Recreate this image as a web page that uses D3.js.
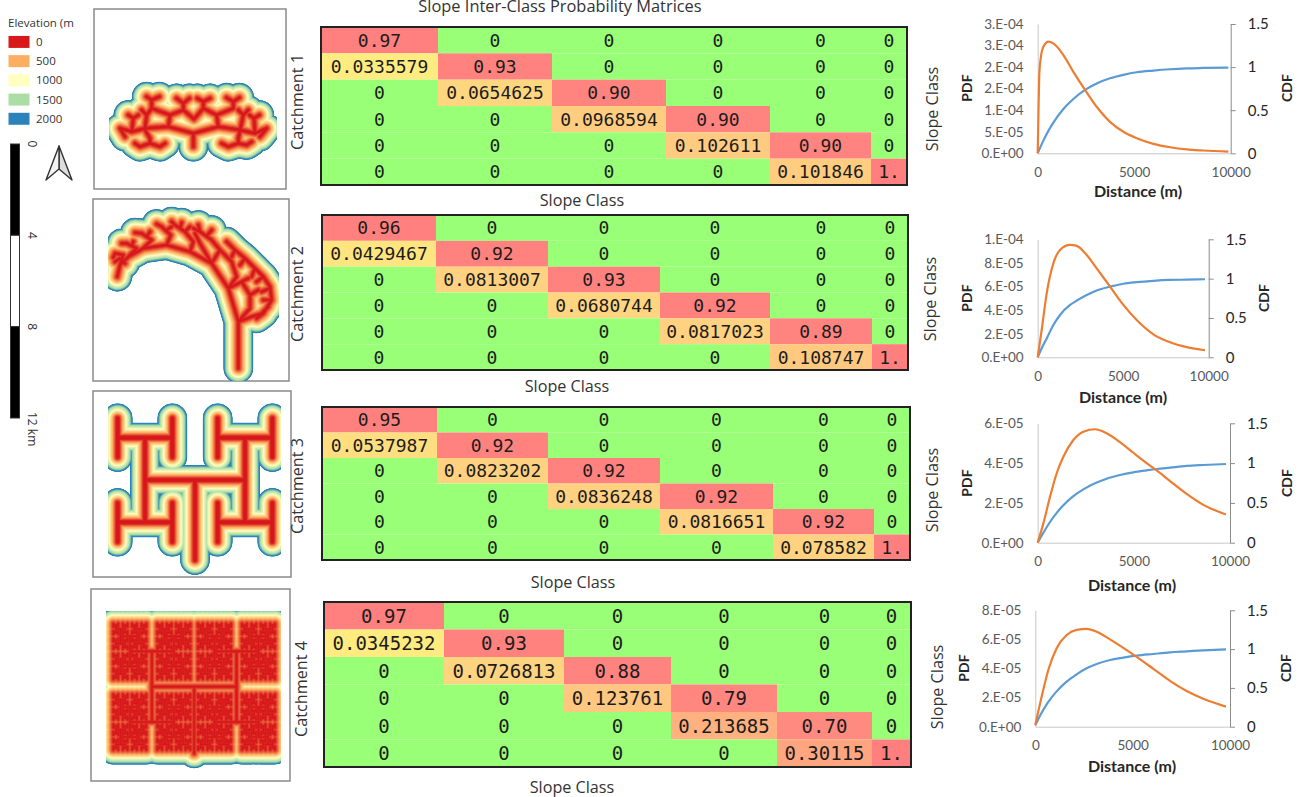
<!DOCTYPE html>
<html>
<head>
<meta charset="utf-8">
<script src="https://cdn.jsdelivr.net/npm/d3@7"></script>
<style>
  body { margin: 0; background: #fff; }
  text { font-family: "Open Sans", sans-serif; fill: #333; }
  .cell-text { font-family: "DejaVu Sans Mono", monospace; fill: #1c1c1c; text-anchor: middle; dominant-baseline: central; }
  .tick text { font-family: Lato, sans-serif; }
  .bold { font-family: Lato, sans-serif; font-weight: 700; fill: #262626; }
</style>
</head>
<body>
<svg width="1301" height="797"></svg>
<script>
// inter-class matrices, kept as printed
const matrix1 = [
  ['0.97','0','0','0','0','0'],
  ['0.0335579','0.93','0','0','0','0'],
  ['0','0.0654625','0.90','0','0','0'],
  ['0','0','0.0968594','0.90','0','0'],
  ['0','0','0','0.102611','0.90','0'],
  ['0','0','0','0','0.101846','1.']
];
const matrix2 = [
  ['0.96','0','0','0','0','0'],
  ['0.0429467','0.92','0','0','0','0'],
  ['0','0.0813007','0.93','0','0','0'],
  ['0','0','0.0680744','0.92','0','0'],
  ['0','0','0','0.0817023','0.89','0'],
  ['0','0','0','0','0.108747','1.']
];
const matrix3 = [
  ['0.95','0','0','0','0','0'],
  ['0.0537987','0.92','0','0','0','0'],
  ['0','0.0823202','0.92','0','0','0'],
  ['0','0','0.0836248','0.92','0','0'],
  ['0','0','0','0.0816651','0.92','0'],
  ['0','0','0','0','0.078582','1.']
];
const matrix4 = [
  ['0.97','0','0','0','0','0'],
  ['0.0345232','0.93','0','0','0','0'],
  ['0','0.0726813','0.88','0','0','0'],
  ['0','0','0.123761','0.79','0','0'],
  ['0','0','0','0.213685','0.70','0'],
  ['0','0','0','0','0.30115','1.']
];

// curves
const dist1 = [0,35,86,155,294,553,812,1330,1848,2453,3057,3748,4439,5130,5993,6857,7720,8584,9879];
const pdf1 = [0,8.5e-5,1.86e-4,2.2e-4,2.47e-4,2.59e-4,2.55e-4,2.28e-4,1.89e-4,1.47e-4,1.08e-4,7.3e-5,5.0e-5,3.5e-5,2.2e-5,1.4e-5,9e-6,6.5e-6,4e-6];
const cdf1 = [0,.02,.045,.08,.147,.26,.356,.514,.63,.735,.81,.87,.91,.94,.96,.975,.985,.99,.995];

const dist2 = [0,234,526,916,1306,1891,2281,2865,3450,4230,5010,5789,6764,7739,8713,9786];
const pdf2 = [0,2.32e-5,5.42e-5,7.97e-5,9.1e-5,9.52e-5,9.44e-5,8.67e-5,7.54e-5,5.99e-5,4.44e-5,3.16e-5,1.95e-5,1.27e-5,8.6e-6,6e-6];
const cdf2 = [0,.114,.24,.41,.538,.665,.72,.792,.85,.898,.935,.955,.972,.983,.987,.992];

const dist3 = [0,295,641,988,1334,1854,2374,2981,3588,4281,4974,5667,6187,6880,7747,8614,9792];
const pdf3 = [0,9.7e-6,2.31e-5,3.49e-5,4.32e-5,5.16e-5,5.58e-5,5.7e-5,5.5e-5,5.05e-5,4.52e-5,4.0e-5,3.63e-5,3.1e-5,2.45e-5,1.9e-5,1.42e-5];
const cdf3 = [0,.125,.26,.375,.47,.585,.67,.746,.804,.85,.884,.909,.926,.943,.964,.976,.989];

const dist4 = [0,325,668,1096,1610,2123,2637,3151,3836,4521,5205,6062,6918,7774,8630,9795];
const pdf4 = [1.1e-6,2.06e-5,3.9e-5,5.39e-5,6.3e-5,6.65e-5,6.72e-5,6.53e-5,6.0e-5,5.42e-5,4.8e-5,3.98e-5,3.15e-5,2.45e-5,1.92e-5,1.38e-5];
const cdf4 = [.02,.18,.32,.455,.58,.675,.752,.808,.86,.89,.915,.937,.958,.971,.984,.997];

// left axis labels, bottom to top as printed
const pdfLabels1 = ['0.E+00','5.E-05','1.E-04','2.E-04','2.E-04','3.E-04','3.E-04'];
const pdfLabels2 = ['0.E+00','2.E-05','4.E-05','6.E-05','8.E-05','1.E-04'];
const pdfLabels3 = ['0.E+00','2.E-05','4.E-05','6.E-05'];
const pdfLabels4 = ['0.E+00','2.E-05','4.E-05','6.E-05','8.E-05'];
const cdfTicks = [0, 0.5, 1, 1.5];
const cdfLabels = ['0', '0.5', '1', '1.5'];
const distTicks = [0, 5000, 10000];

// elevation legend
const elevations = [0, 500, 1000, 1500, 2000];
const elevationColors = ['#d7191c', '#fdae61', '#ffffbf', '#abdda4', '#2b83ba'];
const scaleKm = [0, 4, 8, 12];

const network1 = [
  [[280,215],[280,175],[205,155],[135,160],[95,170],[60,160]],
  [[280,175],[355,155],[420,165],[465,175],[500,160]],
  [[205,155],[210,120],[250,105],[250,85],[230,70]], [[250,85],[268,70]],
  [[210,120],[155,100],[155,75],[140,65]], [[155,75],[178,65]],
  [[355,155],[350,120],[310,100],[310,80],[292,70]], [[310,80],[330,70]],
  [[350,120],[400,100],[400,80],[380,68]], [[400,80],[418,68]],
  [[250,105],[282,132],[310,100]],
  [[135,160],[140,120],[125,105]], [[140,120],[155,100]],
  [[95,170],[100,130],[85,120]], [[100,130],[115,120]],
  [[60,160],[75,185]],
  [[135,165],[150,190],[150,205],[120,215],[105,205]], [[150,205],[180,215],[195,205]],
  [[420,165],[415,190],[415,205],[440,210],[455,200]], [[415,205],[385,215],[365,205]],
  [[420,165],[430,120],[445,105]], [[430,120],[415,105]],
  [[465,175],[462,130],[478,120]], [[462,130],[448,120]],
  [[500,160],[480,185]]
];
const network2 = [
  [[415,505],[415,365],[385,265],[335,190],[270,155],[200,135],[130,145],[85,170],[60,195],[52,230]],
  [[415,365],[450,325],[450,285],[425,245],[385,265]],
  [[415,365],[455,350],[490,340],[515,300],[510,260],[490,230],[465,205],[435,175],[405,150],[380,125]],
  [[385,265],[410,230],[395,185],[360,150],[335,190]],
  [[360,150],[335,120],[300,95],[280,85]],
  [[335,190],[300,130],[285,100]],
  [[270,155],[280,125],[255,95],[225,75]],
  [[200,135],[212,105],[185,80]],
  [[130,145],[155,120],[125,100]],
  [[85,170],[110,145],[80,130]],
  [[60,195],[70,165],[45,160]],
  // twigs
  [[515,300],[490,300]], [[510,265],[485,275]], [[490,230],[470,245]], [[465,205],[455,230]],
  [[490,340],[470,355]], [[505,320],[480,345]], [[435,175],[420,195]], [[405,150],[395,170]],
  [[450,285],[475,270]], [[425,245],[445,235]],
  [[300,95],[295,75]], [[320,108],[335,90]], [[255,95],[270,80]], [[240,85],[245,68]],
  [[225,75],[215,65]], [[185,80],[170,72]], [[198,92],[215,80]], [[125,100],[105,98]],
  [[140,110],[150,95]], [[80,130],[65,130]], [[95,138],[100,125]], [[45,160],[40,172]],
  [[60,175],[45,185]], [[65,180],[75,190]]
];
// half lengths of each H-tree level, alternating horizontal and vertical
const hTreeLevels3 = [150, 127, 82, 58];
const hTreeLevels4 = [127, 106, 66, 45, 28, 22, 14, 11, 7, 5];

const svg = d3.select('svg');
svg.append('filter').attr('id', 'soft')
  .attr('filterUnits', 'userSpaceOnUse')
  .attr('x', 0).attr('y', 0).attr('width', 1301).attr('height', 797)
  .append('feGaussianBlur').attr('stdDeviation', 0.5);
const gMaps = svg.append('g');
const gTables = svg.append('g');
const gCharts = svg.append('g');

// maps
const elevColor = d3.scaleLinear().domain(elevations).range(elevationColors).clamp(true);
const levels = d3.range(2200, -1, -25);

const hTree = (cx, cy, halves) => {
  const out = [];
  const grow = (x, y, i) => {
    if (i >= halves.length) return;
    const h = halves[i];
    if (i % 2 === 0) {
      out.push([[x - h, y], [x + h, y]]);
      grow(x - h, y, i + 1);
      grow(x + h, y, i + 1);
    } else {
      out.push([[x, y - h], [x, y + h]]);
      grow(x, y - h, i + 1);
      grow(x, y + h, i + 1);
    }
  };
  grow(cx, cy, 0);
  return out;
};

const maps = [
  {network: network1, core: 0.9, frame: [94, 9, 286, 189], clip: [109, 0, 277, 797], xd: [0, 760], x: [100, 760 / 3 + 100], yd: [0, 760], y: [75, 760 / 3 + 75]},
  {network: network2, core: 0.8, frame: [93, 199, 289, 381], clip: [108, 199, 279, 381], xd: [0, 760], x: [100, 760 / 3 + 100], yd: [0, 760], y: [200, 760 / 3 + 200]},
  {network: [...hTree(585, 285, hTreeLevels3), [[585, 285], [585, 525]]], core: 1.5, frame: [93, 391, 291, 577], clip: [108, 403, 281, 575], xd: [0, 900], x: [0, 300], yd: [0, 1236], y: [385, 797]},
  {network: [...hTree(582.5, 905, hTreeLevels4), [[582.5, 905], [582.5, 1105]]], core: 0.6, frame: [91, 589, 290, 781], clip: [106, 611, 281, 770], xd: [0, 900], x: [0, 300], yd: [0, 1236], y: [385, 797]}
];

maps.forEach((m, i) => {
  const xMap = d3.scaleLinear().domain(m.xd).range(m.x);
  const yMap = d3.scaleLinear().domain(m.yd).range(m.y);
  const line = d3.line().x(d => xMap(d[0])).y(d => yMap(d[1]));
  const pathData = m.network.map(line).join('');
  const elevRadius = d3.scaleLinear()
    .domain([...elevations, 2200])
    .range([m.core, 5, 8.5, 12, 14, 14.8]);

  svg.append('clipPath').attr('id', `map-clip-${i}`)
    .append('rect')
      .attr('x', m.clip[0]).attr('y', m.clip[1])
      .attr('width', m.clip[2] - m.clip[0]).attr('height', m.clip[3] - m.clip[1]);

  gMaps.append('rect')
    .attr('x', m.frame[0]).attr('y', m.frame[1])
    .attr('width', m.frame[2] - m.frame[0]).attr('height', m.frame[3] - m.frame[1])
    .attr('fill', '#fff').attr('stroke', '#8a8a8a').attr('stroke-width', 1.5);

  gMaps.append('g').attr('clip-path', `url(#map-clip-${i})`)
    .append('g').attr('filter', 'url(#soft)')
    .selectAll('path').data(levels)
    .enter().append('path')
      .attr('d', pathData)
      .attr('fill', 'none')
      .attr('stroke', d => elevColor(d))
      .attr('stroke-width', d => elevRadius(d) * 2)
      .attr('stroke-linecap', 'round')
      .attr('stroke-linejoin', 'round');
});

// legend
gMaps.append('text').attr('x', 8).attr('y', 27).attr('font-size', 11.5).text('Elevation (m');
const legendY = d3.scaleBand().domain(elevations).range([32, 130]).padding(0.1);
gMaps.selectAll('.swatch').data(elevations)
  .enter().append('rect')
    .attr('class', 'swatch')
    .attr('x', 8.5)
    .attr('y', d => legendY(d) + 2)
    .attr('width', 21)
    .attr('height', 12)
    .attr('fill', d => elevColor(d));
gMaps.selectAll('.swatch-label').data(elevations)
  .enter().append('text')
    .attr('class', 'swatch-label')
    .attr('x', 36)
    .attr('y', d => legendY(d) + 12)
    .attr('font-size', 11.5)
    .text(d => d);

// scale bar and north arrow
const kmY = d3.scaleLinear().domain([0, 12]).range([144, 418]);
gMaps.selectAll('.km').data(d3.pairs(scaleKm))
  .enter().append('rect')
    .attr('class', 'km')
    .attr('x', 10.5).attr('width', 9)
    .attr('y', d => kmY(d[0]))
    .attr('height', d => kmY(d[1]) - kmY(d[0]))
    .attr('fill', (d, i) => i % 2 ? '#fff' : '#000')
    .attr('stroke', '#333').attr('stroke-width', 1);
gMaps.selectAll('.km-label').data(scaleKm)
  .enter().append('text')
    .attr('class', 'km-label')
    .attr('transform', d => `translate(28,${kmY(d) - (d === 12 ? 6 : 0)}) rotate(90)`)
    .attr('text-anchor', d => d === 12 ? 'start' : 'middle')
    .attr('font-size', 12)
    .text(d => d === 12 ? '12 km' : d);
const arrow = gMaps.append('g').attr('transform', 'translate(59,146)');
arrow.append('path').attr('d', 'M0,0L13,34L0,23Z').attr('fill', '#ddd').attr('stroke', '#333').attr('stroke-width', 1.4).attr('stroke-linejoin', 'round');
arrow.append('path').attr('d', 'M0,0L-13,34L0,23Z').attr('fill', '#f4f4f4').attr('stroke', '#333').attr('stroke-width', 1.4).attr('stroke-linejoin', 'round');

// matrices
const cellColor = d3.scaleLinear()
  .domain([0.03, 0.065, 0.1, 0.21, 0.3, 0.7, 1])
  .range(['#ffee80', '#ffd680', '#ffcc80', '#ffb380', '#ffa680', '#ff8a80', '#ff7f7f']);

const tables = [
  {rows: matrix1, edges: [321, 438, 552, 666, 770, 871, 907], top: 27, bottom: 185, fontSize: 18, label: 'Catchment 1', labelX: 297, labelY: 102, xLabel: 582, xLabelY: 200},
  {rows: matrix2, edges: [322, 436, 548, 660, 770, 872, 908], top: 215, bottom: 370, fontSize: 18, label: 'Catchment 2', labelX: 297, labelY: 294, xLabel: 567, xLabelY: 386},
  {rows: matrix3, edges: [322, 437, 548, 660, 773, 874, 910], top: 407, bottom: 560, fontSize: 18, label: 'Catchment 3', labelX: 297, labelY: 486, xLabel: 573, xLabelY: 582},
  {rows: matrix4, edges: [324, 444, 564, 671, 777, 872, 911], top: 602, bottom: 767, fontSize: 19, label: 'Catchment 4', labelX: 301, labelY: 689, xLabel: 572, xLabelY: 787}
];

gTables.append('text')
  .attr('x', 560).attr('y', 12)
  .attr('text-anchor', 'middle')
  .attr('font-size', 16.4)
  .text('Slope Inter-Class Probability Matrices');

tables.forEach(t => {
  const xCell = d3.scaleLinear().domain(d3.range(7)).range(t.edges);
  const yCell = d3.scaleLinear().domain([0, 6]).range([t.top, t.bottom]);
  const cells = t.rows.flatMap((row, r) => row.map((v, c) => ({v, r, c})));
  const g = gTables.append('g');

  g.selectAll('rect').data(cells)
    .enter().append('rect')
      .attr('x', d => xCell(d.c))
      .attr('y', d => yCell(d.r))
      .attr('width', d => xCell(d.c + 1) - xCell(d.c))
      .attr('height', d => yCell(d.r + 1) - yCell(d.r))
      .attr('fill', d => +d.v === 0 ? '#99ff77' : cellColor(+d.v));

  g.selectAll('text').data(cells)
    .enter().append('text')
      .attr('class', 'cell-text')
      .attr('x', d => (xCell(d.c) + xCell(d.c + 1)) / 2)
      .attr('y', d => (yCell(d.r) + yCell(d.r + 1)) / 2)
      .attr('font-size', t.fontSize)
      .text(d => d.v);

  g.append('rect')
    .attr('x', t.edges[0]).attr('y', t.top)
    .attr('width', t.edges[6] - t.edges[0]).attr('height', t.bottom - t.top)
    .attr('fill', 'none').attr('stroke', '#222').attr('stroke-width', 2);

  g.append('text')
    .attr('transform', `translate(${t.labelX},${t.labelY}) rotate(-90)`)
    .attr('text-anchor', 'middle').attr('dominant-baseline', 'central')
    .attr('font-size', 16.2)
    .text(t.label);

  g.append('text')
    .attr('x', t.xLabel).attr('y', t.xLabelY)
    .attr('text-anchor', 'middle').attr('dominant-baseline', 'central')
    .attr('font-size', 16.2)
    .text('Slope Class');
});

// pdf / cdf charts
const charts = [
  {dist: dist1, pdf: pdf1, cdf: cdf1, pdfMax: 3e-4, labels: pdfLabels1, left: 1037.7, right: 1230.7, top: 24, bottom: 153.3, slopeX: 932, slopeY: 109, pdfX: 966, cdfX: 1286, nameY: 88, distX: 1138, distY: 190},
  {dist: dist2, pdf: pdf2, cdf: cdf2, pdfMax: 1e-4, labels: pdfLabels2, left: 1037.7, right: 1208.7, top: 239.3, bottom: 357.3, slopeX: 930, slopeY: 299, pdfX: 966, cdfX: 1263, nameY: 298, distX: 1123, distY: 396},
  {dist: dist3, pdf: pdf3, cdf: cdf3, pdfMax: 6e-5, labels: pdfLabels3, left: 1037.7, right: 1230, top: 423.3, bottom: 542.7, slopeX: 932, slopeY: 490, pdfX: 966, cdfX: 1286, nameY: 483, distX: 1132, distY: 584},
  {dist: dist4, pdf: pdf4, cdf: cdf4, pdfMax: 8e-5, labels: pdfLabels4, left: 1035.3, right: 1230, top: 610.3, bottom: 726.7, slopeX: 937, slopeY: 687, pdfX: 963, cdfX: 1285, nameY: 668, distX: 1132, distY: 765}
];

charts.forEach(c => {
  const xScale = d3.scaleLinear().domain([0, 10000]).range([c.left, c.right]);
  const yPdf = d3.scaleLinear().domain([0, c.pdfMax]).range([c.bottom, c.top]);
  const yCdf = d3.scaleLinear().domain([0, 1.5]).range([c.bottom, c.top]);
  const g = gCharts.append('g');

  const pdfTicks = c.labels.map((d, i) => c.pdfMax * i / (c.labels.length - 1));
  const leftAxis = g.append('g')
    .attr('transform', `translate(${c.left},0)`)
    .call(d3.axisLeft(yPdf).tickValues(pdfTicks).tickSize(0).tickPadding(14).tickFormat((d, i) => c.labels[i]));
  leftAxis.select('.domain').attr('stroke', '#c8c8c8');
  leftAxis.selectAll('text').attr('font-size', 13.5).style('fill', '#595959');

  const rightAxis = g.append('g')
    .attr('transform', `translate(${c.right},0)`)
    .call(d3.axisRight(yCdf).tickValues(cdfTicks).tickSize(5).tickSizeOuter(0).tickPadding(12).tickFormat((d, i) => cdfLabels[i]));
  rightAxis.selectAll('.domain, .tick line').attr('stroke', '#8c8c8c');
  rightAxis.selectAll('text').attr('font-size', 15).style('fill', '#262626');

  const bottomAxis = g.append('g')
    .attr('transform', `translate(0,${c.bottom})`)
    .call(d3.axisBottom(xScale).tickValues(distTicks).tickSize(0).tickPadding(14).tickFormat(d3.format('d')));
  bottomAxis.select('.domain').attr('stroke', '#c8c8c8');
  bottomAxis.selectAll('text').attr('font-size', 13.5).style('fill', '#595959');

  const lineOf = yScale => d3.line()
    .x((d, i) => xScale(c.dist[i]))
    .y(d => yScale(d))
    .curve(d3.curveMonotoneX);

  g.append('path').attr('d', lineOf(yCdf)(c.cdf))
    .attr('fill', 'none').attr('stroke', '#5b9bd5').attr('stroke-width', 2.2);
  g.append('path').attr('d', lineOf(yPdf)(c.pdf))
    .attr('fill', 'none').attr('stroke', '#ed7d31').attr('stroke-width', 2.2);

  const rotated = (x, y, text, cls, size) => g.append('text')
    .attr('class', cls)
    .attr('transform', `translate(${x},${y}) rotate(-90)`)
    .attr('text-anchor', 'middle').attr('dominant-baseline', 'central')
    .attr('font-size', size)
    .text(text);
  rotated(c.slopeX, c.slopeY, 'Slope Class', '', 16.2);
  rotated(c.pdfX, c.nameY, 'PDF', 'bold', 14);
  rotated(c.cdfX, c.nameY, 'CDF', 'bold', 14);

  g.append('text')
    .attr('class', 'bold')
    .attr('x', c.distX).attr('y', c.distY)
    .attr('text-anchor', 'middle').attr('dominant-baseline', 'central')
    .attr('font-size', 16)
    .text('Distance (m)');
});
</script>
</body>
</html>
